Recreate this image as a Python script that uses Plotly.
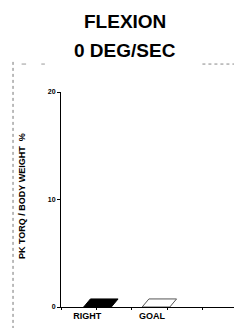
import plotly.graph_objects as go

# ---- data ----
categories = ["RIGHT", "GOAL"]
values = [0, 0]                      # PK TORQ / BODY WEIGHT %
y_ticks = [0, 10, 20]
title_lines = ["FLEXION", "0 DEG/SEC"]
y_title = "PK TORQ / BODY WEIGHT  %"

# ---- style / geometry (not data) ----
bar_left = [0.64, 2.29]      # x position of bar front-left corner
label_pos = [0.74, 2.57]     # x position of category labels
bar_w = 0.78
depth_dx = 0.19
depth_dy = 0.75
fills = ["black", "white"]
lines = ["black", "#555555"]

fig = go.Figure()
for cat, v, x0, fc, lc in zip(categories, values, bar_left, fills, lines):
    xs = [x0, x0 + bar_w, x0 + bar_w + depth_dx, x0 + bar_w + depth_dx, x0 + depth_dx, x0, x0]
    ys = [0, 0, depth_dy, v + depth_dy, v + depth_dy, v, 0]
    fig.add_trace(go.Scatter(x=xs, y=ys, mode="lines", fill="toself",
                             fillcolor=fc, line=dict(color=lc, width=1),
                             name=cat, showlegend=False, hoverinfo="skip"))

fig.update_layout(
    width=234, height=320,
    margin=dict(l=53, r=2, t=84, b=21),
    paper_bgcolor="white", plot_bgcolor="white",
    font=dict(family="Liberation Sans, Arial, sans-serif", color="black"),
    xaxis=dict(range=[0, 5.05], showgrid=False, zeroline=False,
               showline=True, linecolor="black", linewidth=1,
               tickmode="array", tickvals=label_pos,
               ticktext=[f"<b>{c}</b>" for c in categories],
               ticks="", tickfont=dict(size=9, color="black"),
               minor=dict(dtick=1, tick0=0, ticks="outside", ticklen=2,
                          tickcolor="black", showgrid=False)),
    yaxis=dict(range=[0, 20], showgrid=False, zeroline=False,
               showline=True, linecolor="black", linewidth=1,
               tickmode="array", tickvals=y_ticks,
               ticktext=[f"<b>{t}</b>" for t in y_ticks],
               ticks="outside", ticklen=3, tickcolor="black",
               tickfont=dict(size=7, color="black")),
    shapes=[
        dict(type="line", xref="paper", yref="paper", x0=-0.268, x1=-0.268,
             y0=1.14, y1=-0.11, line=dict(color="#777777", width=1, dash="dot")),
        dict(type="line", xref="paper", yref="paper", x0=-0.22, x1=-0.195,
             y0=1.13, y1=1.13, line=dict(color="#999999", width=1)),
        dict(type="line", xref="paper", yref="paper", x0=-0.11, x1=-0.09,
             y0=1.13, y1=1.13, line=dict(color="#999999", width=1)),
        dict(type="line", xref="paper", yref="paper", x0=0.79, x1=0.995,
             y0=1.13, y1=1.13, line=dict(color="#888888", width=1, dash="dot")),
    ],
    annotations=[
        dict(text=f"<b>{title_lines[0]}</b>", xref="paper", yref="paper",
             x=0.36, y=1.33, xanchor="center", yanchor="middle",
             showarrow=False, font=dict(size=19, color="black")),
        dict(text=f"<b>{title_lines[1]}</b>", xref="paper", yref="paper",
             x=0.36, y=1.195, xanchor="center", yanchor="middle",
             showarrow=False, font=dict(size=19, color="black")),
        dict(text=f"<b>{y_title}</b>", xref="paper", yref="paper",
             x=-0.218, y=0.516, xanchor="center", yanchor="middle",
             textangle=-90, showarrow=False, font=dict(size=9, color="black")),
    ],
)

fig.write_html("out.html")
